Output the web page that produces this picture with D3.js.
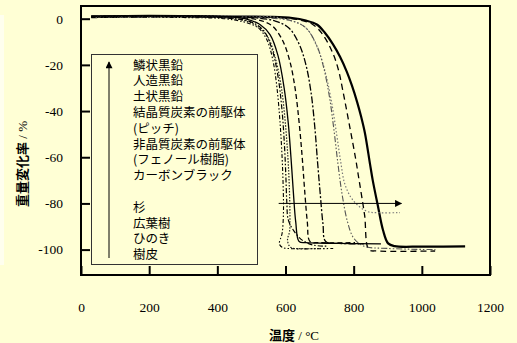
<!DOCTYPE html>
<html>
<head>
<meta charset="utf-8">
<script src="https://cdn.jsdelivr.net/npm/d3@7/dist/d3.min.js"></script>
<style>
  html, body { margin: 0; padding: 0; background: #ffffd5; }
  svg { display: block; }
  .num { font-family: "Liberation Serif", "DejaVu Serif", serif; }
  .jp { font-family: "Noto Sans CJK JP", sans-serif; }
</style>
</head>
<body>
<svg id="chart" width="517" height="343"></svg>
<script>
// Temperature ticks (°C) and weight-change ticks (%)
const xTicks = [0, 200, 400, 600, 800, 1000, 1200];
const yTicks = [0, -20, -40, -60, -80, -100];

// Legend entries, from highest to lowest combustion temperature
const legendLabels = [
  "鱗状黒鉛", "人造黒鉛", "土状黒鉛", "結晶質炭素の前駆体", "(ピッチ)",
  "非晶質炭素の前駆体", "(フェノール樹脂)", "カーボンブラック", "",
  "杉", "広葉樹", "ひのき", "樹皮"
];

// TG curves: [temperature °C, weight change %]
const flakeGraphite = [[30,1],[200,1.2],[400,1],[550,0.8],[620,0.3],[660,-0.8],[692,-2.5],[715,-6],[739,-11],[760,-16.5],[780,-23],[795,-29],[810,-36],[822,-42.5],[833,-49.5],[848,-63],[856,-70],[871,-81],[886,-91.5],[901,-97.3],[920,-98.5],[1000,-98.7],[1127,-98.6]];
const artificialGraphite = [[30,0.5],[300,0.8],[550,0.6],[640,-0.5],[680,-2.5],[710,-7],[739,-15],[755,-22],[768,-31],[790,-48],[805,-60],[816,-70],[832,-85],[845,-100],[870,-100.6],[1039,-100.6]];
const earthyGraphite = [[30,1],[400,1.2],[560,0.8],[620,-1],[660,-4],[695,-13],[718,-24],[735,-36],[750,-50],[762,-62],[775,-72],[800,-79],[840,-83.5],[870,-84],[936,-84]];
const pitch = [[30,0.5],[400,0.6],[550,0.3],[620,-1],[660,-4],[690,-11],[710,-20],[728,-33],[742,-48],[754,-63],[766,-76],[782,-88],[800,-95],[830,-98.5],[900,-99.5],[1040,-100]];
const phenolResin = [[30,1],[300,1],[500,0.5],[570,-1],[610,-4],[640,-11],[660,-20],[675,-32],[686,-47],[694,-62],[702,-76],[710,-89],[718,-96.5],[760,-97.3],[830,-97.5]];
const carbonBlack = [[30,0.8],[300,1],[450,0.6],[520,-0.5],[560,-3],[590,-9],[612,-18],[628,-30],[640,-45],[649,-60],[656,-74],[664,-88],[672,-96.5],[700,-97],[804,-97]];
const cedar = [[30,1],[200,1.3],[400,1],[480,0],[525,-2.5],[555,-7],[578,-16],[596,-30],[608,-45],[616,-60],[623,-75],[630,-88],[640,-96.5],[660,-97],[750,-97.3],[880,-97.5]];
const broadleaf = [[30,0.8],[200,1],[400,0.6],[470,-0.5],[515,-3],[548,-8],[570,-17],[588,-30],[600,-46],[607,-60],[611,-72],[613,-85],[612,-92],[606,-96],[615,-99],[650,-99.6],[700,-99.5]];
const hinoki = [[30,1],[200,1.2],[350,0.8],[450,0],[500,-1.5],[535,-5],[560,-13],[578,-25],[590,-40],[597,-55],[601,-68],[604,-80],[608,-87],[625,-92],[650,-96],[680,-98],[720,-98.5]];
const bark = [[30,0.5],[150,0.8],[300,0.5],[420,0],[480,-1.5],[520,-4],[545,-9],[563,-18],[575,-30],[584,-45],[590,-60],[593,-72],[594,-84],[590,-93],[582,-97.5],[590,-99],[620,-99.6],[700,-99.6],[740,-99.5]];

// Arrow spanning the combustion range
const arrowRange = [580, 940];
const arrowLevel = -80;

const series = [
  { data: flakeGraphite,      color: "#000",  width: 2.2, dash: null },
  { data: artificialGraphite, color: "#000",  width: 1.3, dash: "6,4" },
  { data: earthyGraphite,     color: "#777",  width: 1.2, dash: "1.5,2" },
  { data: pitch,              color: "#555",  width: 1.1, dash: "6,2,1.5,2,1.5,2" },
  { data: phenolResin,        color: "#000",  width: 1.3, dash: "7,2,2,2" },
  { data: carbonBlack,        color: "#000",  width: 1.3, dash: "5,3" },
  { data: cedar,              color: "#000",  width: 1.3, dash: null },
  { data: broadleaf,          color: "#222",  width: 1.2, dash: "1.5,1.5" },
  { data: hinoki,             color: "#000",  width: 1.2, dash: "5,2,1.5,2" },
  { data: bark,               color: "#000",  width: 1.1, dash: "4,2,1.5,2,1.5,2" }
];

const svg = d3.select("#chart");
const plotLeft = 81, plotRight = 490, plotTop = 6, plotBottom = 275;

const x = d3.scaleLinear().domain([0, 1200]).range([plotLeft, plotRight]);
const y = d3.scaleLinear().domain([-111, 5.5]).range([plotBottom, plotTop]);

svg.append("rect").attr("width", 517).attr("height", 343).attr("fill", "#ffffd5");
svg.append("rect").attr("x", 0).attr("y", 15).attr("width", 4).attr("height", 250).attr("fill", "#ffffee");

// Legend box (drawn under the curves)
const lg = svg.append("g");
lg.append("rect").attr("x", 91.5).attr("y", 54.5).attr("width", 166).attr("height", 210)
  .attr("fill", "none").attr("stroke", "#333").attr("stroke-width", 1);

svg.append("defs").append("marker")
  .attr("id", "head").attr("viewBox", "0 0 10 10").attr("refX", 9).attr("refY", 5)
  .attr("markerWidth", 8).attr("markerHeight", 7).attr("markerUnits", "userSpaceOnUse")
  .attr("orient", "auto")
  .append("path").attr("d", "M0,0L10,5L0,10Z").attr("fill", "#000");

lg.append("line").attr("x1", 109).attr("y1", 258).attr("x2", 109).attr("y2", 62)
  .attr("stroke", "#000").attr("stroke-width", 1).attr("marker-end", "url(#head)");

lg.selectAll("text").data(legendLabels).join("text")
  .attr("class", "jp")
  .attr("x", 133)
  .attr("y", (d, i) => 65 + i * 15.8)
  .attr("dy", "0.36em")
  .attr("font-size", 12.5)
  .attr("fill", "#000")
  .text(d => d);

// Curves
const line = d3.line().x(d => x(d[0])).y(d => y(d[1])).curve(d3.curveCatmullRom.alpha(0.5));
svg.append("g").selectAll("path").data(series).join("path")
  .attr("d", d => line(d.data))
  .attr("fill", "none")
  .attr("stroke", d => d.color)
  .attr("stroke-width", d => d.width)
  .attr("stroke-dasharray", d => d.dash);

// Horizontal arrow
svg.append("line")
  .attr("x1", x(arrowRange[0])).attr("y1", y(arrowLevel))
  .attr("x2", x(arrowRange[1])).attr("y2", y(arrowLevel))
  .attr("stroke", "#000").attr("stroke-width", 1).attr("marker-end", "url(#head)");

// Axes with inward ticks, plain hyphen minus and no thousands separator
const plain = d => String(d);
const yAxis = d3.axisLeft(y).tickValues(yTicks).tickFormat(plain)
  .tickSizeInner(-9).tickSizeOuter(0).tickPadding(18);
const gy = svg.append("g").attr("transform", `translate(${plotLeft},0)`).call(yAxis);
const xAxis = d3.axisBottom(x).tickValues(xTicks).tickFormat(plain)
  .tickSizeInner(-9).tickSizeOuter(0).tickPadding(27);
const gx = svg.append("g").attr("transform", `translate(0,${plotBottom})`).call(xAxis);
[gx, gy].forEach(g => {
  g.attr("font-family", null).attr("font-size", null);
  g.select(".domain").remove();
  g.selectAll(".tick line").attr("stroke", "#000").attr("stroke-width", 2);
  g.selectAll(".tick text").attr("class", "num").attr("font-size", 13.5).attr("fill", "#000");
});

// Plot frame
svg.append("rect").attr("x", plotLeft).attr("y", plotTop)
  .attr("width", plotRight - plotLeft).attr("height", plotBottom - plotTop)
  .attr("fill", "none").attr("stroke", "#000").attr("stroke-width", 2);

// Axis titles
const xt = svg.append("text").attr("x", 294).attr("y", 340).attr("text-anchor", "middle").attr("font-size", 13);
xt.append("tspan").attr("class", "jp").attr("font-weight", "bold").text("温度");
xt.append("tspan").attr("class", "num").text(" / °C");

const yt = svg.append("text").attr("transform", "translate(27,164) rotate(-90)")
  .attr("text-anchor", "middle").attr("font-size", 13);
yt.append("tspan").attr("class", "jp").attr("font-weight", "bold").text("重量変化率");
yt.append("tspan").attr("class", "num").text(" / %");
</script>
</body>
</html>
